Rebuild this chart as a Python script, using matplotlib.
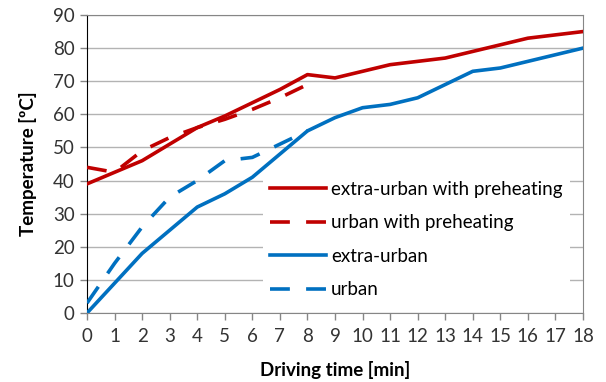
import matplotlib.pyplot as plt
import numpy as np

plt.rcParams['font.family'] = ['Lato', 'DejaVu Sans']

# Temperatur vs. Fahrzeit (Minuten)
t_long = np.arange(0, 19)
t_short = np.arange(0, 9)

extra_urban_pre = [39, 42.5, 46, 51, 56, 59.5, 63.5, 67.5, 72, 71, 73, 75, 76, 77, 79, 81, 83, 84, 85]
urban_pre = [44, 42.5, 49, 53, 56, 58.5, 61.5, 65, 69]
extra_urban = [0, 9, 18, 25, 32, 36, 41, 48, 55, 59, 62, 63, 65, 69, 73, 74, 76, 78, 80]
urban = [3, 15, 26, 35, 40, 46, 47, 51, 55]

RED = '#C00000'
BLUE = '#0070C0'

fig = plt.figure(figsize=(6.06, 3.82), dpi=100)
ax = fig.add_axes([0.1436, 0.1806, 0.8184, 0.7801])

lw = 2.6
dash = (5.5, 4.5)
ax.plot(t_long, extra_urban_pre, color=RED, lw=lw, label='extra-urban with preheating', zorder=3)
ax.plot(t_short, urban_pre, color=RED, lw=lw, ls=(0, dash), label='urban with preheating', zorder=3)
ax.plot(t_long, extra_urban, color=BLUE, lw=lw, label='extra-urban', zorder=3)
ax.plot(t_short, urban, color=BLUE, lw=lw, ls=(0, dash), label='urban', zorder=3)

ax.set_xlim(0, 18)
ax.set_ylim(0, 90)
ax.set_xticks(range(0, 19))
ax.set_yticks(range(0, 91, 10))
ax.yaxis.grid(True, color='#B3B3B3', lw=1)
ax.set_axisbelow(True)

for side in ['top', 'right', 'bottom']:
    ax.spines[side].set_color('#868686')
ax.spines['left'].set_color('black')
ax.spines['bottom'].set_zorder(4)
ax.tick_params(axis='both', colors='#868686', labelcolor='#333333', labelsize=13.5,
               length=5, width=1)
ax.tick_params(axis='x', pad=6)
ax.tick_params(axis='y', pad=4)

ax.set_xlabel('Driving time [min]', fontsize=13.5, fontweight='bold', labelpad=11)
ax.set_ylabel('Temperature [ºC]', fontsize=13.5, fontweight='bold', labelpad=11)

leg = ax.legend(loc='upper left', bbox_to_anchor=(0.335, 0.50), fontsize=13.5,
                handlelength=3.0, handletextpad=0.25, labelspacing=0.88,
                frameon=True, framealpha=1, facecolor='white', edgecolor='none',
                borderpad=0.4, fancybox=False)
leg.set_zorder(5)

fig.savefig('out.png', dpi=100)
